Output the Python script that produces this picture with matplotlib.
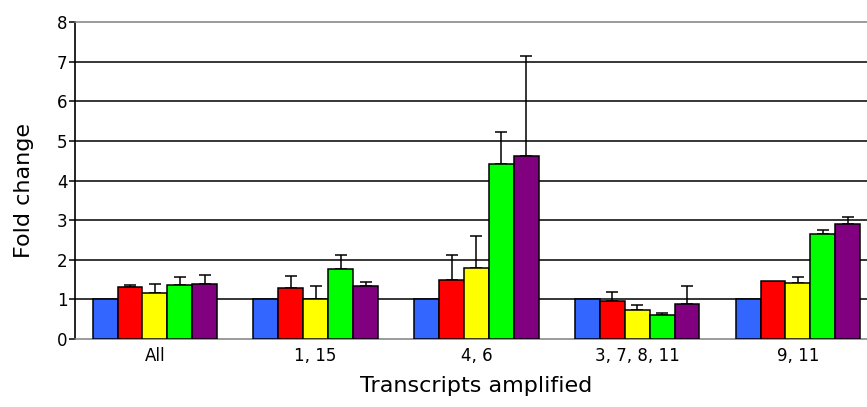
import numpy as np
import matplotlib.pyplot as plt

# ============
#  DATA
# ============

groups = ["All", "1, 15", "4, 6", "3, 7, 8, 11", "9, 11"]
colors = ["#3366ff", "#ff0000", "#ffff00", "#00ff00", "#800080"]

# one list per bar colour (blue, red, yellow, green, purple), values per group
blue = [1.00, 1.00, 1.00, 1.00, 1.00]
red = [1.32, 1.30, 1.49, 0.95, 1.46]
yellow = [1.17, 1.00, 1.78, 0.74, 1.42]
green = [1.36, 1.77, 4.42, 0.61, 2.66]
purple = [1.38, 1.34, 4.62, 0.89, 2.90]

# upper error only
blue_err = [0, 0, 0, 0, 0]
red_err = [0.04, 0.28, 0.64, 0.23, 0.0]
yellow_err = [0.22, 0.34, 0.82, 0.11, 0.14]
green_err = [0.21, 0.35, 0.81, 0.04, 0.09]
purple_err = [0.24, 0.10, 2.53, 0.44, 0.18]

yticks = [0, 1, 2, 3, 4, 5, 6, 7, 8]

series = [blue, red, yellow, green, purple]
errors = [blue_err, red_err, yellow_err, green_err, purple_err]

# ============
#  PLOT
# ============

plt.rcParams["font.family"] = ["DejaVu Sans"]

fig = plt.figure(figsize=(8.67, 4.07), dpi=100)
ax = fig.add_axes([0.086, 0.167, 0.927, 0.779])

x = np.arange(len(groups))
w = 0.155

for yv in yticks[1:-1]:
    ax.axhline(yv, color="black", lw=1.1, zorder=1)

for i, (vals, errs, col) in enumerate(zip(series, errors, colors)):
    pos = x + (i - 2) * w
    ax.bar(pos, vals, width=w, color=col, edgecolor="black", linewidth=1.1, zorder=3)
    errs = np.asarray(errs, dtype=float)
    has = errs > 0
    if has.any():
        ax.errorbar(pos[has], np.asarray(vals)[has],
                    yerr=[np.zeros(has.sum()), errs[has]],
                    fmt="none", ecolor="black", elinewidth=1.1,
                    capsize=4, capthick=1.1, zorder=2)

ax.set_xlim(-0.5, len(groups) - 0.5)
ax.set_ylim(0, 8)
ax.set_yticks(yticks)
ax.set_xticks(x)
ax.set_xticklabels(groups, fontsize=12)
ax.tick_params(axis="x", length=0, pad=6)
ax.tick_params(axis="y", length=4, width=1.1, direction="out", pad=1, labelsize=12)

ax.spines["right"].set_visible(False)
ax.spines["top"].set_color("#808080")
ax.spines["bottom"].set_color("#808080")
ax.spines["top"].set_linewidth(1.1)
ax.spines["bottom"].set_linewidth(1.1)
ax.spines["left"].set_linewidth(1.2)

ax.set_xlabel("Transcripts amplified", fontsize=16, labelpad=8)
ax.set_ylabel("Fold change", fontsize=16)
ax.yaxis.set_label_coords(-0.051, 0.47)

fig.savefig("out.png", dpi=100)
